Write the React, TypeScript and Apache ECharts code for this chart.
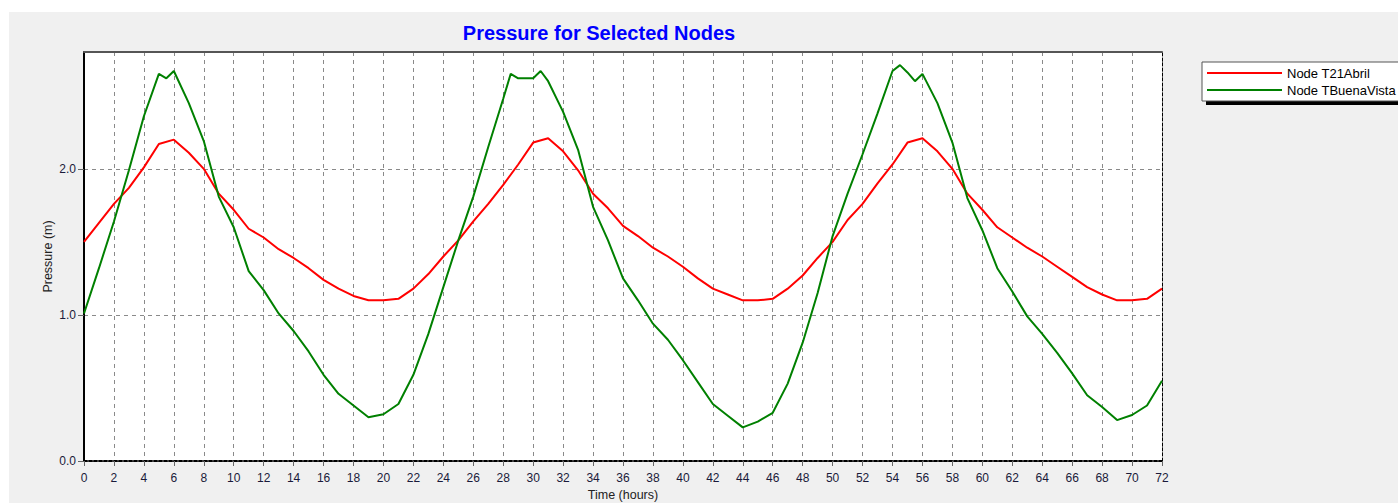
import React, { useEffect, useRef } from "react";
import * as echarts from "echarts";

const TITLE = "Pressure for Selected Nodes";
const X_NAME = "Time (hours)";
const Y_NAME = "Pressure (m)";
const SERIES_NAMES = ["Node T21Abril", "Node TBuenaVista"];

const hours = [
  0, 1, 2, 3, 4, 5, 6, 7, 8, 9, 10, 11, 12, 13, 14, 15, 16, 17, 18, 19, 20, 21, 22, 23, 24,
  25, 26, 27, 28, 29, 30, 31, 32, 33, 34, 35, 36, 37, 38, 39, 40, 41, 42, 43, 44, 45, 46, 47, 48,
  49, 50, 51, 52, 53, 54, 55, 56, 57, 58, 59, 60, 61, 62, 63, 64, 65, 66, 67, 68, 69, 70, 71, 72,
];

const t21Abril = [
  1.5, 1.63, 1.76, 1.87, 2.01, 2.17, 2.2, 2.11, 2.0, 1.83, 1.72, 1.59, 1.53, 1.45, 1.39, 1.32, 1.24,
  1.18, 1.13, 1.1, 1.1, 1.11, 1.18, 1.28, 1.4, 1.51, 1.64, 1.76, 1.89, 2.03, 2.18, 2.21, 2.12, 1.99,
  1.83, 1.73, 1.61, 1.54, 1.46, 1.4, 1.33, 1.25, 1.18, 1.14, 1.1, 1.1, 1.11, 1.18, 1.27, 1.39, 1.5,
  1.65, 1.76, 1.9, 2.03, 2.18, 2.21, 2.12, 2.0, 1.83, 1.72, 1.6, 1.53, 1.46, 1.4, 1.33, 1.26, 1.19,
  1.14, 1.1, 1.1, 1.11, 1.18,
];

const buenaVistaHours = [
  0, 1, 2, 3, 4, 5, 5.5, 6, 7, 8, 9, 10, 11, 12, 13, 14, 15, 16, 17, 18, 19, 20, 21, 22, 23, 24,
  25, 26, 27, 28, 28.5, 29, 30, 30.5, 31, 32, 33, 34, 35, 36, 37, 38, 39, 40, 41, 42, 43, 44, 45,
  46, 47, 48, 49, 50, 51, 52, 53, 54, 54.5, 55, 55.5, 56, 57, 58, 59, 60, 61, 62, 63, 64, 65, 66,
  67, 68, 69, 70, 71, 72,
];

const buenaVista = [
  1.01, 1.32, 1.64, 1.99, 2.36, 2.65, 2.62, 2.67, 2.45, 2.19, 1.81, 1.6, 1.3, 1.17, 1.01, 0.89,
  0.75, 0.59, 0.46, 0.38, 0.3, 0.32, 0.39, 0.59, 0.87, 1.19, 1.51, 1.81, 2.15, 2.48, 2.65, 2.62,
  2.62, 2.67, 2.6, 2.39, 2.13, 1.74, 1.51, 1.25, 1.1, 0.94, 0.83, 0.69, 0.54, 0.39, 0.31, 0.23,
  0.27, 0.33, 0.53, 0.81, 1.15, 1.54, 1.83, 2.1, 2.38, 2.67, 2.71, 2.66, 2.6, 2.65, 2.45, 2.18,
  1.8, 1.58, 1.32, 1.16, 0.99, 0.87, 0.74, 0.6, 0.45, 0.37, 0.28, 0.315, 0.38, 0.55,
];

const X_MIN = 0;
const X_MAX = 72;
const X_STEP = 2;
const Y_MIN = 0;
const Y_MAX = 2.8;
const Y_STEP = 1;

const FONT = "'Liberation Sans', Arial, sans-serif";

export default function App() {
  const ref = useRef<HTMLDivElement>(null);

  useEffect(() => {
    document.body.style.margin = "0";
    if (!ref.current) return;
    const chart = echarts.init(ref.current, undefined, { renderer: "svg" });

    const gridLine = { show: true, lineStyle: { color: "#8a8a8a", type: [4, 4] as any, width: 1 } };

    chart.setOption({
      animation: false,
      backgroundColor: "#ffffff",
      textStyle: { fontFamily: FONT },
      title: {
        text: TITLE,
        left: 594,
        top: 18,
        textAlign: "center",
        textStyle: { color: "#0000ff", fontSize: 20, fontWeight: "bold", fontFamily: FONT },
      },
      graphic: [
        {
          type: "rect",
          z: -100,
          shape: { x: 9, y: 12, width: 1400, height: 500 },
          style: { fill: "#f0f0f0" },
        },
        {
          type: "rect",
          z: 1,
          shape: { x: 1206, y: 66, width: 300, height: 39 },
          style: { fill: "#000000" },
        },
      ],
      legend: {
        data: SERIES_NAMES,
        orient: "vertical",
        left: 1202,
        top: 62,
        icon: "rect",
        itemWidth: 75,
        itemHeight: 2,
        itemGap: 3,
        padding: [4, 60, 4, 5],
        backgroundColor: "#ffffff",
        borderColor: "#555555",
        borderWidth: 1,
        textStyle: { fontSize: 13, color: "#000000", lineHeight: 14, fontFamily: FONT },
      },
      grid: {
        left: 84,
        top: 52,
        right: 236,
        bottom: 42,
        show: true,
        backgroundColor: "#ffffff",
        borderWidth: 0,
        containLabel: false,
        outerBoundsMode: "none",
      },
      xAxis: [
        {
          type: "value",
          min: X_MIN,
          max: X_MAX,
          interval: X_STEP,
          name: X_NAME,
          nameLocation: "middle",
          nameGap: 27,
          nameTextStyle: { fontSize: 12.5, color: "#222222" },
          axisLine: { show: true, onZero: false, lineStyle: { color: "#000000", width: 2, type: [3, 2] as any } },
          axisTick: { show: true, length: 5, lineStyle: { color: "#666666" } },
          axisLabel: { fontSize: 12, color: "#1a1a3a", margin: 11 },
          splitLine: gridLine,
        },
        {
          type: "value",
          position: "top",
          min: X_MIN,
          max: X_MAX,
          interval: X_STEP,
          axisLine: { show: true, onZero: false, lineStyle: { color: "#555555", width: 2 } },
          axisTick: { show: false },
          axisLabel: { show: false },
          splitLine: { show: false },
        },
      ],
      yAxis: [
        {
          type: "value",
          min: Y_MIN,
          max: Y_MAX,
          interval: Y_STEP,
          name: Y_NAME,
          nameLocation: "middle",
          nameGap: 30,
          nameMoveOverlap: false,
          nameTextStyle: { fontSize: 12.5, color: "#222222" },
          axisLine: { show: true, onZero: false, lineStyle: { color: "#000000", width: 2 } },
          axisTick: { show: true, length: 6, lineStyle: { color: "#666666" } },
          axisLabel: {
            fontSize: 12,
            color: "#1a1a3a",
            margin: 8,
            showMaxLabel: false,
            formatter: (v: number) => v.toFixed(1),
          },
          splitLine: gridLine,
        },
        {
          type: "value",
          position: "right",
          min: Y_MIN,
          max: Y_MAX,
          interval: Y_STEP,
          axisLine: { show: true, onZero: false, lineStyle: { color: "#000000", width: 1, type: [3, 2] as any } },
          axisTick: { show: false },
          axisLabel: { show: false },
          splitLine: { show: false },
        },
      ],
      series: [
        {
          name: SERIES_NAMES[0],
          type: "line",
          showSymbol: false,
          symbol: "none",
          color: "#ff0000",
          itemStyle: { color: "#ff0000" },
          lineStyle: { color: "#ff0000", width: 2 },
          data: hours.map((h, i) => [h, t21Abril[i]]),
        },
        {
          name: SERIES_NAMES[1],
          type: "line",
          showSymbol: false,
          symbol: "none",
          color: "#008000",
          itemStyle: { color: "#008000" },
          lineStyle: { color: "#008000", width: 2 },
          data: buenaVistaHours.map((h, i) => [h, buenaVista[i]]),
        },
      ],
    });

    return () => chart.dispose();
  }, []);

  return <div ref={ref} style={{ width: 1398, height: 503 }} />;
}
